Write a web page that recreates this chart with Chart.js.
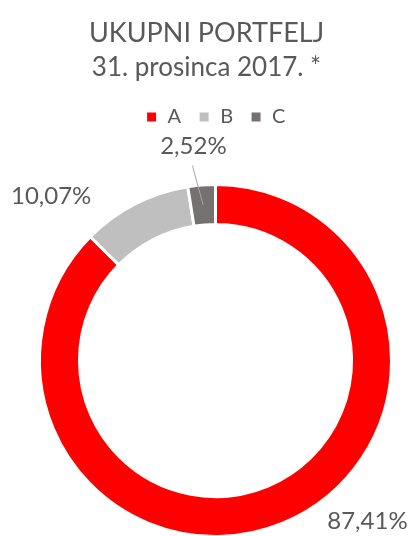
<!DOCTYPE html>
<html>
<head>
<meta charset="utf-8">
<script src="https://cdn.jsdelivr.net/npm/chart.js@4.4.0/dist/chart.umd.min.js"></script>
<style>
  html, body { margin: 0; padding: 0; background: #fff; overflow: hidden; }
  #wrap { position: relative; width: 413px; height: 536px; overflow: hidden; }
  #portfolioChart { position: absolute; left: 0; top: 0; }
  .heading { position: absolute; left: 0; width: 413px; text-align: center; font-family: Lato, sans-serif; color: #595959; line-height: 1.2; white-space: nowrap; }
  #title { top: 16px; font-size: 27px; }
  #subtitle { top: 51px; font-size: 26px; }
</style>
</head>
<body>
<div id="wrap">
  <canvas id="portfolioChart" width="413" height="584"></canvas>
  <div id="title" class="heading">UKUPNI PORTFELJ</div>
  <div id="subtitle" class="heading">31. prosinca 2017. *</div>
</div>
<script>
const categories = ['A', 'B', 'C'];
const shares = [87.41, 10.07, 2.52];
const sliceColors = ['#ff0000', '#bfbfbf', '#767171'];

function formatShare(v) {
  return v.toFixed(2).replace('.', ',') + '%';
}

// where each percentage sits: fraction along its slice, distance past the outer edge
const labelPlacement = [
  { along: 0.434, gap: 45 },
  { along: 0.006, gap: 56 },
  { along: 0.35, gap: 39, leader: true }
];

const shareLabels = {
  id: 'shareLabels',
  afterDatasetsDraw(chart) {
    const ctx = chart.ctx;
    const meta = chart.getDatasetMeta(0);
    ctx.save();
    ctx.font = '24px Lato';
    ctx.fillStyle = '#595959';
    ctx.textAlign = 'center';
    ctx.textBaseline = 'middle';
    meta.data.forEach((arc, i) => {
      const p = arc.getProps(['x', 'y', 'startAngle', 'endAngle', 'innerRadius', 'outerRadius']);
      const place = labelPlacement[i];
      const a = p.startAngle + (p.endAngle - p.startAngle) * place.along;
      const r = p.outerRadius + place.gap;
      const lx = p.x + Math.cos(a) * r;
      const ly = p.y + Math.sin(a) * r;
      if (place.leader) {
        const mid = (p.startAngle + p.endAngle) / 2;
        const mr = (p.innerRadius + p.outerRadius) / 2;
        ctx.beginPath();
        ctx.strokeStyle = '#a6a6a6';
        ctx.lineWidth = 1;
        ctx.moveTo(lx - 1, ly + 19);
        ctx.lineTo(p.x + Math.cos(mid) * mr, p.y + Math.sin(mid) * mr);
        ctx.stroke();
      }
      ctx.fillText(formatShare(shares[i]), lx, ly);
    });
    ctx.restore();
  }
};

function drawChart() {
  new Chart(document.getElementById('portfolioChart'), {
    type: 'doughnut',
    data: {
      labels: categories,
      datasets: [{
        data: shares,
        backgroundColor: sliceColors,
        borderColor: '#ffffff',
        borderWidth: 3,
        radius: 176,
        cutout: '77.3%'
      }]
    },
    options: {
      responsive: false,
      animation: false,
      layout: { padding: { top: 90, left: 18, right: 0, bottom: 0 } },
      plugins: {
        legend: {
          position: 'top',
          labels: {
            boxWidth: 12,
            boxHeight: 12,
            padding: 17,
            color: '#595959',
            font: { family: 'Lato', size: 20 }
          }
        },
        tooltip: { enabled: false }
      }
    },
    plugins: [shareLabels]
  });
}

document.fonts.load('24px Lato').then(drawChart, drawChart);
</script>
</body>
</html>
